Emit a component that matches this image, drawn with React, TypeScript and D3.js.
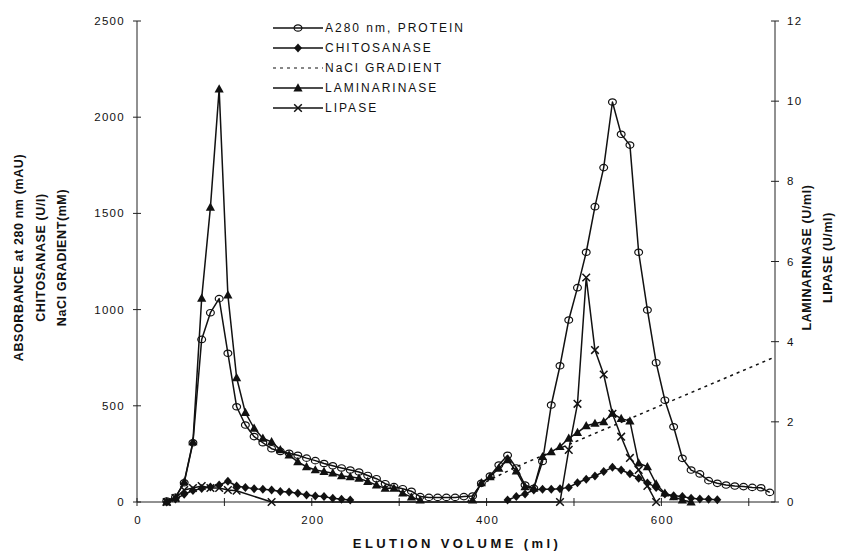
import React from 'react'
import * as d3 from 'd3'

// fraction volumes (ml)
const volumes = [
  34, 44, 54, 64, 74, 84, 94, 104, 114, 124, 134, 144, 154, 164, 174, 184, 194, 204, 214, 224,
  234, 244, 254, 264, 274, 284, 294, 304, 314, 324, 334, 344, 354, 364, 374, 384, 394, 404, 414, 424,
  434, 444, 454, 464, 474, 484, 494, 504, 514, 524, 534, 544, 554, 564, 574, 584, 594, 604, 614, 624,
  634, 644, 654, 664, 674, 684, 694, 704, 714, 724,
]

// A280 protein (mAU), left axis
const protein = [
  5, 25, 100, 308, 845, 984, 1057, 773, 495, 400, 340, 308, 277, 263, 253, 243, 228, 215, 200, 188,
  177, 166, 156, 138, 121, 95, 80, 69, 56, 28, 24, 24, 24, 24, 28, 31, 97, 135, 192, 243,
  177, 88, 71, 211, 504, 708, 946, 1114, 1298, 1535, 1738, 2079, 1911, 1855, 1298, 998, 724, 529, 391, 227,
  166, 146, 111, 97, 88, 83, 80, 76, 74, 50,
]

// chitosanase (U/l), left axis; null = not assayed
const chitosanase = [
  0, 15, 40, 60, 70, 78, 88, 108, 83, 76, 69, 66, 62, 55, 52, 45, 36, 31, 28, 19,
  14, 10, null, null, null, null, null, null, null, null, null, null, null, null, null, null, null, null, null, 10,
  28, 42, 62, 66, 66, 69, 76, 100, 118, 135, 158, 180, 166, 147, 123, 99, 76, 42, 33, 28,
  19, 16, 14, 12, null, null, null, null, null, null,
]

// laminarinase (U/ml), right axis
const laminarinase = [
  0, 0.1, 0.5, 1.5, 5.08, 7.35, 10.3, 5.16, 3.1, 2.23, 1.84, 1.59, 1.5, 1.3, 1.17, 1.0, 0.88, 0.8, 0.76, 0.72,
  0.65, 0.63, 0.59, 0.51, 0.42, 0.34, 0.34, 0.22, 0.12, 0.05, null, null, null, null, null, 0.05, 0.48, 0.63, 0.84, 1.05,
  0.77, 0.38, 0.34, 1.13, 1.25, 1.38, 1.59, 1.73, 1.9, 1.96, 2.0, 2.21, 2.08, 2.02, 0.97, 0.88, 0.45, 0.22, 0.13, 0.05,
  0, null, null, null, null, null, null, null, null, null,
]

// lipase (U/ml), right axis
const lipase = [
  0, 0.1, 0.3, 0.35, 0.4, 0.35, 0.35, 0.3, 0.28, null, null, null, 0, null, null, null, null, null, null, null,
  null, null, null, null, null, null, null, null, null, null, null, null, null, null, null, null, null, null, null, null,
  null, null, null, null, null, 0, 1.3, 2.45, 5.6, 3.79, 3.18, 2.2, 1.63, 1.1, 0.8, 0.4, 0, null, null, null,
  null, null, null, null, null, null, null, null, null, null,
]

// NaCl gradient (mM), left axis
const gradientVolumes = [378, 395, 434, 729]
const gradientValues = [0, 95, 183, 752]

const xTicks = [0, 100, 200, 300, 400, 500, 600, 700]
const xLabels = [0, 200, 400, 600]
const leftTicks = [0, 500, 1000, 1500, 2000, 2500]
const rightTicks = [0, 2, 4, 6, 8, 10, 12]

const legendNames = ['A280 nm, PROTEIN', 'CHITOSANASE', 'NaCl GRADIENT', 'LAMINARINASE', 'LIPASE']

const W = 853
const H = 553
const M = { left: 137, right: 775, top: 21, bottom: 502 }
const FONT = '"Liberation Sans", Arial, sans-serif'
const INK = '#111'

const x = d3.scaleLinear().domain([0, 730]).range([M.left, M.right])
const yL = d3.scaleLinear().domain([0, 2500]).range([M.bottom, M.top])
const yR = d3.scaleLinear().domain([0, 12]).range([M.bottom, M.top])

type Pt = [number, number | null]

const Marker = ({ kind, cx, cy }: { kind: string; cx: number; cy: number }) => {
  if (kind === 'circle')
    return <ellipse cx={cx} cy={cy} rx={3.9} ry={3.2} fill="none" stroke={INK} strokeWidth={1.2} />
  if (kind === 'diamond')
    return <path transform={`translate(${cx},${cy})`} d="M0,-4.5L4,0L0,4.5L-4,0Z" fill={INK} />
  if (kind === 'triangle')
    return <path transform={`translate(${cx},${cy})`} d="M0,-4.8L4.6,3.4L-4.6,3.4Z" fill={INK} />
  if (kind === 'cross')
    return (
      <path
        transform={`translate(${cx},${cy})`}
        d="M-3.8,-3.8L3.8,3.8M-3.8,3.8L3.8,-3.8"
        stroke={INK}
        strokeWidth={1.5}
        fill="none"
      />
    )
  return null
}

const Series = ({
  values,
  y,
  kind,
  joinGaps,
}: {
  values: (number | null)[]
  y: d3.ScaleLinear<number, number>
  kind: string
  joinGaps: boolean
}) => {
  let pts: Pt[] = volumes.map((v, i) => [v, values[i]])
  if (joinGaps) pts = pts.filter((d) => d[1] != null)
  const line = d3
    .line<Pt>()
    .defined((d) => d[1] != null)
    .x((d) => x(d[0]))
    .y((d) => y(d[1] as number))
  return (
    <g>
      <path d={line(pts) || ''} fill="none" stroke={INK} strokeWidth={1.5} strokeLinejoin="round" />
      {pts
        .filter((d) => d[1] != null)
        .map((d, i) => (
          <Marker key={i} kind={kind} cx={x(d[0])} cy={y(d[1] as number)} />
        ))}
    </g>
  )
}

export default function App() {
  const gradLine = d3
    .line<number>()
    .x((d) => x(d))
    .y((d, i) => yL(gradientValues[i]))
  const kinds = ['circle', 'diamond', 'dotted', 'triangle', 'cross']
  const midY = (M.top + M.bottom) / 2

  return (
    <svg
      width={W}
      height={H}
      style={{ position: 'absolute', left: 0, top: 0, background: '#fff' }}
      fontFamily={FONT}
    >
      <rect width={W} height={H} fill="#fff" />

      {/* axes */}
      <g stroke="#222" strokeWidth={1}>
        <line x1={M.left} x2={M.left} y1={M.top} y2={M.bottom} />
        <line x1={M.right} x2={M.right} y1={M.top} y2={M.bottom} />
        <line x1={M.left} x2={M.right} y1={M.bottom} y2={M.bottom} />
        {leftTicks.map((t) => (
          <line key={'l' + t} x1={M.left - 4} x2={M.left + 4} y1={yL(t)} y2={yL(t)} />
        ))}
        {rightTicks.map((t) => (
          <line key={'r' + t} x1={M.right - 4} x2={M.right + 4} y1={yR(t)} y2={yR(t)} />
        ))}
        {xTicks.map((t) => (
          <line key={'x' + t} x1={x(t)} x2={x(t)} y1={M.bottom - 4} y2={M.bottom + 4} />
        ))}
      </g>

      <g fontSize={11.5} fill={INK} letterSpacing={1.3}>
        {leftTicks.map((t) => (
          <text key={t} x={M.left - 12} y={yL(t)} dy="0.35em" textAnchor="end">
            {t}
          </text>
        ))}
        {rightTicks.map((t) => (
          <text key={t} x={M.right + 12} y={yR(t)} dy="0.35em">
            {t}
          </text>
        ))}
        {xLabels.map((t) => (
          <text key={t} x={x(t) + 1} y={M.bottom + 22} textAnchor="middle">
            {t}
          </text>
        ))}
      </g>

      {/* axis titles */}
      <g fontSize={12.5} fontWeight="bold" fill={INK} textAnchor="middle" letterSpacing={0.6}>
        <text transform={`translate(23,${midY - 4}) rotate(-90)`}>ABSORBANCE at 280 nm (mAU)</text>
        <text transform={`translate(45,${midY - 4}) rotate(-90)`}>CHITOSANASE (U/l)</text>
        <text transform={`translate(66,${midY - 4}) rotate(-90)`}>NaCl GRADIENT(mM)</text>
        <text transform={`translate(811,${midY - 4}) rotate(-90)`}>LAMINARINASE (U/ml)</text>
        <text transform={`translate(832,${midY - 4}) rotate(-90)`}>LIPASE (U/ml)</text>
        <text x={(M.left + M.right) / 2 + 1} y={548} fontSize={13} letterSpacing={3.4}>
          ELUTION VOLUME (ml)
        </text>
      </g>

      {/* gradient */}
      <path
        d={gradLine(gradientVolumes) || ''}
        fill="none"
        stroke={INK}
        strokeWidth={1.5}
        strokeDasharray="3,4"
      />

      <Series values={lipase} y={yR} kind="cross" joinGaps={true} />
      <Series values={chitosanase} y={yL} kind="diamond" joinGaps={false} />
      <Series values={laminarinase} y={yR} kind="triangle" joinGaps={false} />
      <Series values={protein} y={yL} kind="circle" joinGaps={false} />

      {/* legend */}
      <g>
        {legendNames.map((name, i) => {
          const ly = 28 + i * 20
          return (
            <g key={name}>
              <line
                x1={273}
                x2={323}
                y1={ly}
                y2={ly}
                stroke={INK}
                strokeWidth={kinds[i] === 'dotted' ? 1.2 : 1.5}
                strokeDasharray={kinds[i] === 'dotted' ? '3,4' : undefined}
              />
              <Marker kind={kinds[i]} cx={298} cy={ly} />
              <text x={325} y={ly} dy="0.35em" fontSize={12} letterSpacing={2} fill={INK}>
                {name}
              </text>
            </g>
          )
        })}
      </g>
    </svg>
  )
}
